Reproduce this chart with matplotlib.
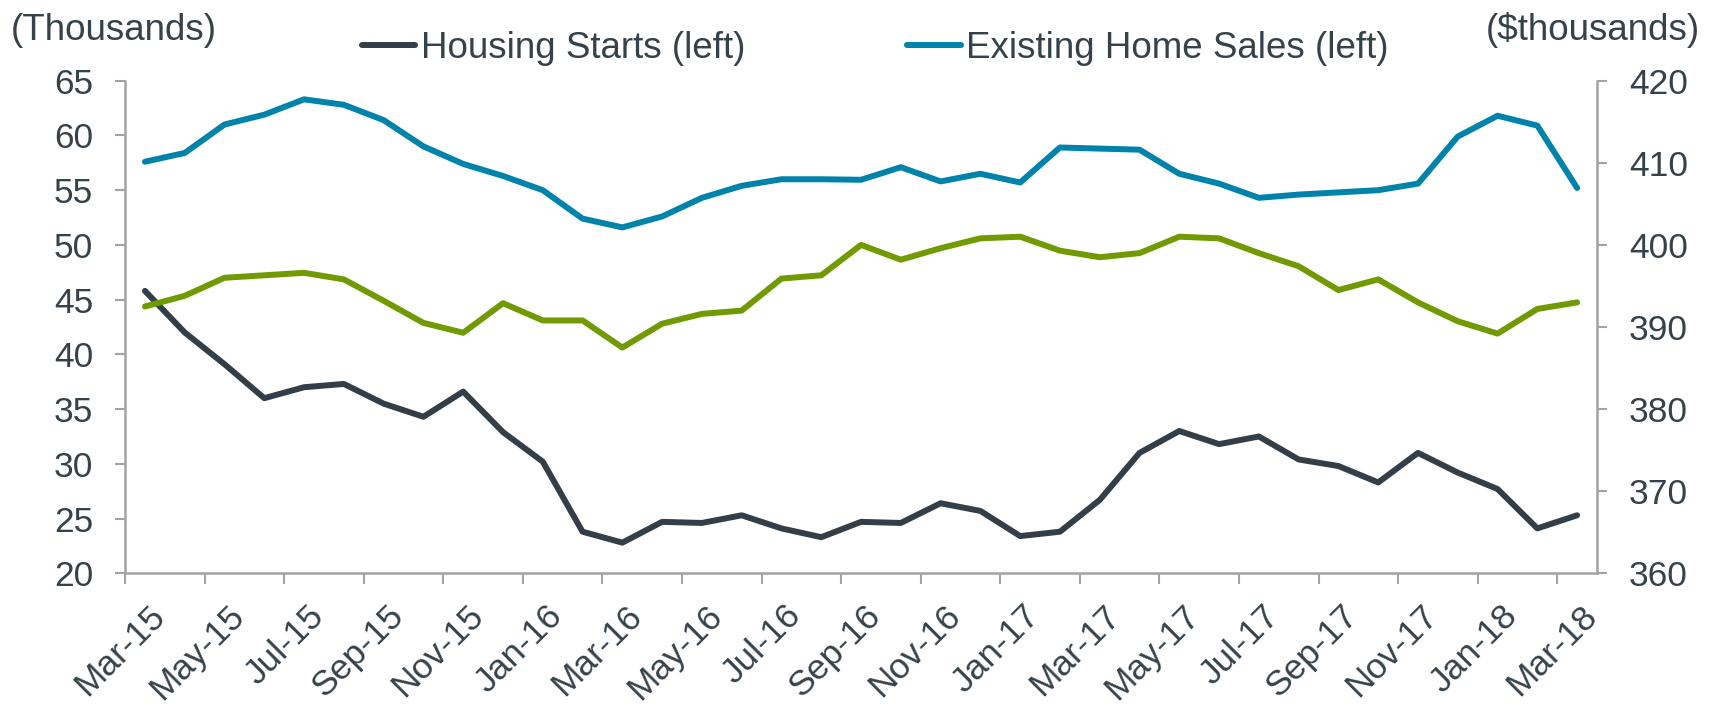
import numpy as np
import pandas as pd
import matplotlib
matplotlib.use('Agg')
import matplotlib.pyplot as plt
from matplotlib.transforms import ScaledTranslation

# monthly, Mar-15 .. Mar-18
months = pd.date_range('2015-03-01', '2018-03-01', freq='MS')
month_labels = [d.strftime('%b-%y') for d in months]

housing_starts = [45.8, 42.0, 39.1, 36.0, 37.0, 37.3, 35.5, 34.3, 36.6, 32.9,
                  30.2, 23.8, 22.8, 24.7, 24.6, 25.3, 24.1, 23.3, 24.7, 24.6,
                  26.4, 25.7, 23.4, 23.8, 26.7, 31.0, 33.0, 31.8, 32.5, 30.4,
                  29.8, 28.3, 31.0, 29.2, 27.7, 24.1, 25.3]
existing_sales = [57.6, 58.4, 61.0, 61.9, 63.3, 62.8, 61.4, 59.0, 57.4, 56.3,
                  55.0, 52.4, 51.6, 52.6, 54.3, 55.4, 56.0, 56.0, 55.95, 57.1,
                  55.8, 56.5, 55.7, 58.9, 58.8, 58.7, 56.5, 55.6, 54.3, 54.6,
                  54.8, 55.0, 55.6, 59.9, 61.8, 60.9, 55.2]
# right axis ($thousands), no legend entry in the original
median_price = [392.5, 393.8, 396.0, 396.3, 396.6, 395.8, 393.2, 390.5, 389.3, 392.9,
                390.8, 390.8, 387.5, 390.4, 391.6, 392.0, 395.9, 396.3, 400.0, 398.2,
                399.6, 400.8, 401.0, 399.3, 398.5, 399.0, 401.0, 400.8, 399.0, 397.4,
                394.5, 395.8, 393.0, 390.7, 389.2, 392.2, 393.0]

left_ticks = [20, 25, 30, 35, 40, 45, 50, 55, 60, 65]
right_ticks = [360, 370, 380, 390, 400, 410, 420]

TXT = '#36424a'
AX = '#a3a3a3'
DARK = '#333f48'
BLUE = '#0083ab'
GREEN = '#709a00'
FS = 25.5     # tick labels
FS2 = 26.5    # legend / axis titles

plt.rcParams['font.family'] = ['Liberation Sans', 'DejaVu Sans']

fig = plt.figure(figsize=(17.25, 7.05), dpi=100)
ax = fig.add_axes([0.0725, 0.1868, 0.8533, 0.6987])
ax2 = ax.twinx()

x = np.arange(len(months))
lkw = dict(lw=4.3, solid_capstyle='round', solid_joinstyle='round')
l1, = ax.plot(x, housing_starts, color=DARK, label='Housing Starts (left)', zorder=3, **lkw)
l2, = ax.plot(x, existing_sales, color=BLUE, label='Existing Home Sales (left)', zorder=3, **lkw)
ax2.plot(x, median_price, color=GREEN, **lkw)

ax.set_xlim(-0.5, len(x) - 0.5)
ax.set_ylim(20, 65)
ax2.set_ylim(360, 420)
ax.set_yticks(left_ticks)
ax2.set_yticks(right_ticks)

# labels every second month, tick marks between categories
ax.set_xticks(x[::2])
ax.set_xticklabels(month_labels[::2], rotation=45, ha='right', va='top',
                   rotation_mode='anchor')
ax.set_xticks(np.arange(-0.5, len(x) - 0.5, 2), minor=True)
ax.tick_params(axis='x', which='major', length=0, pad=18.5, labelsize=FS, labelcolor=TXT)
ax.tick_params(axis='x', which='minor', length=8, width=1.5, color=AX, direction='out')
ax.tick_params(axis='y', length=7, width=1.5, color=AX, pad=16, labelsize=FS, labelcolor=TXT)
ax2.tick_params(axis='y', length=7, width=1.5, color=AX, pad=16, labelsize=FS, labelcolor=TXT)
shift = ScaledTranslation(3 / 100, 0, fig.dpi_scale_trans)
for lab in ax.get_xticklabels():
    lab.set_transform(lab.get_transform() + shift)

for a in (ax, ax2):
    for s in a.spines.values():
        s.set_visible(False)
ax.spines['left'].set_visible(True)
ax.spines['bottom'].set_visible(True)
ax2.spines['right'].set_visible(True)
for s in (ax.spines['left'], ax.spines['bottom'], ax2.spines['right']):
    s.set_color(AX)
    s.set_linewidth(1.8)

fig.text(11 / 1725, 1 - 30 / 705, '(Thousands)', fontsize=FS2, color=TXT, ha='left', va='center')
fig.text(1700 / 1725, 1 - 30 / 705, '($thousands)', fontsize=FS2, color=TXT, ha='right', va='center')

fig.legend(handles=[l1, l2], loc='center left', bbox_to_anchor=(362 / 1725, 1 - 48 / 705),
           ncol=2, frameon=False, fontsize=FS2, labelcolor=TXT, handlelength=1.45,
           handletextpad=0.15, columnspacing=4.4, borderpad=0, borderaxespad=0)

fig.savefig('out.png', dpi=100)
